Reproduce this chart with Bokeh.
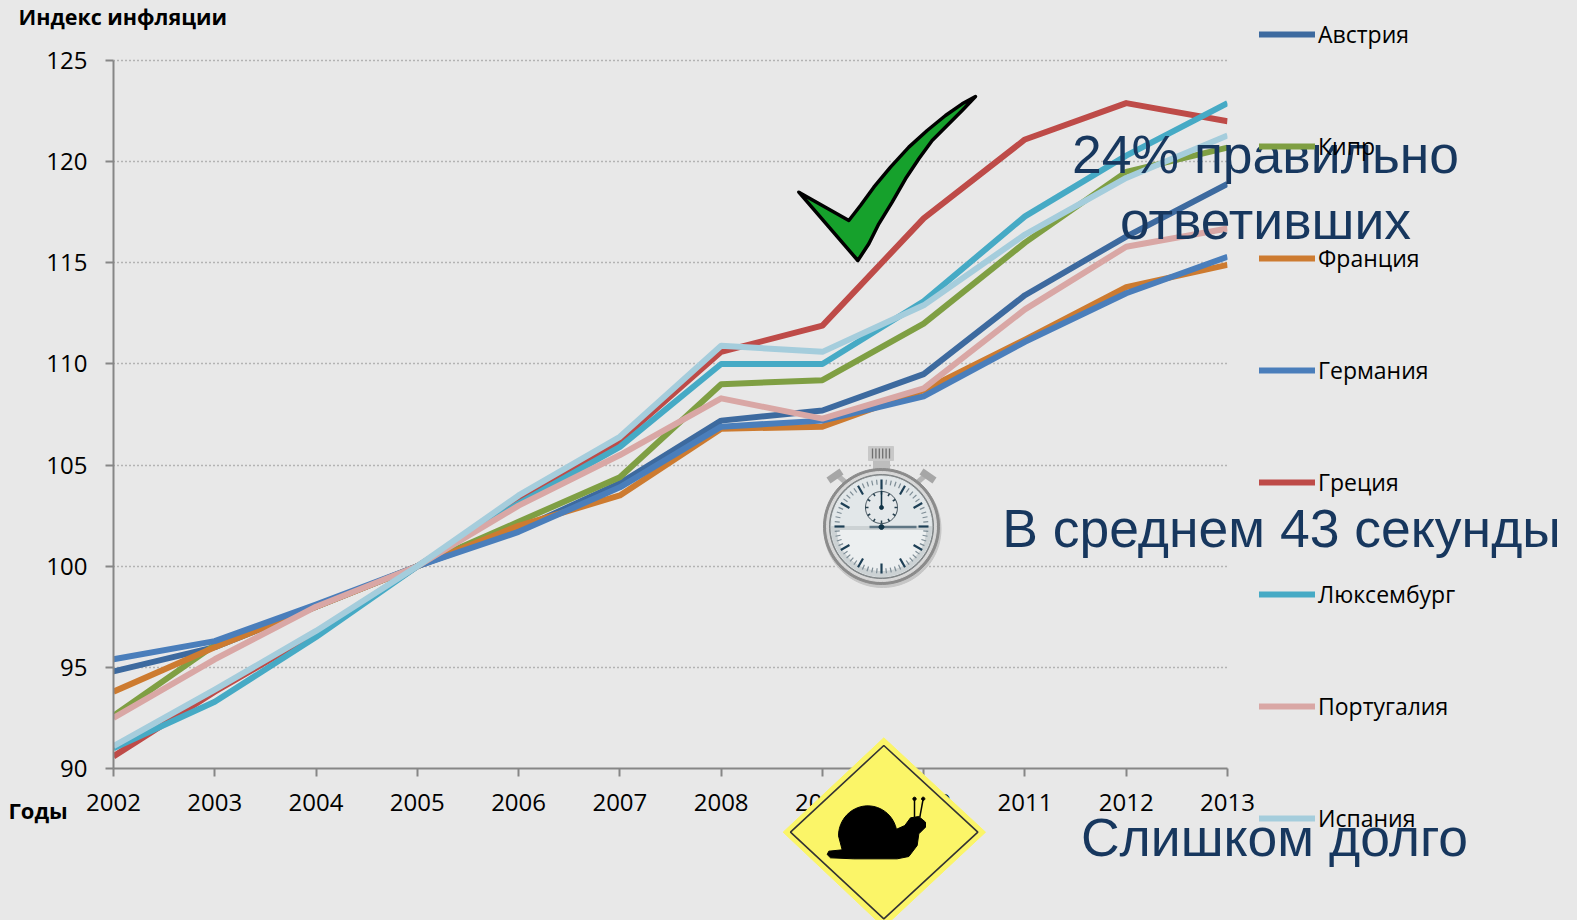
import numpy as np
from bokeh.plotting import figure
from bokeh.embed import file_html
from bokeh.resources import INLINE
from bokeh.models import FixedTicker, Label, Legend, LegendItem, Range1d

years = list(range(2002, 2014))
y_ticks = [90, 95, 100, 105, 110, 115, 120, 125]
austria = [94.8, 96.0, 98.0, 100, 101.8, 104.1, 107.2, 107.7, 109.5, 113.4, 116.3, 118.9]
cyprus = [92.6, 96.1, 98.0, 100, 102.2, 104.4, 109.0, 109.2, 112.0, 116.0, 119.5, 120.7]
france = [93.8, 96.0, 98.0, 100, 102.0, 103.5, 106.8, 106.9, 108.7, 111.2, 113.8, 114.9]
germany = [95.4, 96.3, 98.1, 100, 101.7, 103.9, 106.9, 107.2, 108.4, 111.1, 113.5, 115.3]
greece = [90.6, 93.8, 96.7, 100, 103.2, 106.2, 110.6, 111.9, 117.2, 121.1, 122.9, 122.0]
luxembourg = [91.0, 93.3, 96.5, 100, 103.1, 105.9, 110.0, 110.0, 113.1, 117.3, 120.3, 122.9]
portugal = [92.5, 95.4, 98.0, 100, 103.0, 105.5, 108.3, 107.3, 108.8, 112.7, 115.8, 116.7]
spain = [91.1, 93.9, 96.8, 100, 103.5, 106.4, 110.9, 110.6, 112.9, 116.4, 119.2, 121.3]
names = ["Австрия", "Кипр", "Франция", "Германия", "Греция", "Люксембург", "Португалия", "Испания"]
series = [austria, cyprus, france, germany, greece, luxembourg, portugal, spain]
colors = ["#3d6a9f", "#7f9f43", "#cd7b30", "#4a7ebb", "#be4b48", "#46aac5", "#d9a7a5", "#a5cddc"]

BG = "#e8e8e8"
NAVY = "#17375e"
W, H = 1577, 920
LEFT, RIGHT, TOP, BOTTOM = 113, 1227, 50, 768

p = figure(width=W, height=H, output_backend="svg", toolbar_location=None,
           x_range=Range1d(2002, 2013), y_range=Range1d(90, 125.5),
           min_border_left=LEFT, min_border_right=W - RIGHT,
           min_border_top=TOP, min_border_bottom=H - BOTTOM,
           background_fill_color=BG, border_fill_color=BG,
           styles={"position": "absolute", "left": "0px", "top": "0px"})
p.outline_line_color = None

for ax, ticks in ((p.xaxis, years), (p.yaxis, y_ticks)):
    ax.ticker = FixedTicker(ticks=ticks)
    ax.axis_line_color = "#868686"
    ax.axis_line_width = 2
    ax.major_tick_line_color = "#868686"
    ax.major_tick_line_width = 2
    ax.major_tick_in = 0
    ax.major_tick_out = 8
    ax.minor_tick_line_color = None
    ax.major_label_text_font = "Open Sans"
    ax.major_label_text_font_size = "24px"
    ax.major_label_text_color = "#000000"
p.yaxis.bounds = (90, 125)
p.xaxis.major_label_standoff = 17
p.yaxis.major_label_standoff = 18
p.xgrid.visible = False
p.ygrid.grid_line_color = "#7f7f7f"
p.ygrid.grid_line_dash = "1 3"
p.ygrid.grid_line_width = 1.3

for vals, col in zip(series, colors):
    p.line(years, vals, line_color=col, line_width=6, line_join="round")

# --- transparent overlay whose frame is the whole page, in page pixels
o = figure(width=W, height=H, output_backend="svg", toolbar_location=None,
           x_range=Range1d(0, W), y_range=Range1d(H, 0),
           x_axis_type=None, y_axis_type=None,
           min_border=0, min_border_left=0, min_border_right=0, min_border_top=0, min_border_bottom=0,
           background_fill_alpha=0, border_fill_alpha=0,
           styles={"position": "absolute", "left": "0px", "top": "0px"})
o.grid.visible = False
o.outline_line_color = None

items = []
for name, vals, col in zip(names, series, colors):
    # same series, out of this page-pixel range: it only feeds the legend's sample line
    r = o.line(years, vals, line_color=col, line_width=6, line_cap="round")
    items.append(LegendItem(label=name, renderers=[r]))
legend = Legend(items=items, location=(1259, 86), orientation="vertical",
                background_fill_alpha=0, border_line_color=None, padding=0, margin=0,
                glyph_width=56, glyph_height=24, label_height=24, label_standoff=3,
                spacing=80, label_text_font="Open Sans", label_text_font_size="23px",
                label_text_color="#000000")
o.add_layout(legend, "center")

# --- check mark
check_x = [55, 205, 240, 280, 330, 385, 440, 495, 545, 585, 545, 500, 455, 415, 375, 335, 295, 265, 232]
check_y = [335, 420, 375, 320, 260, 200, 150, 105, 70, 48, 90, 135, 180, 235, 295, 365, 430, 490, 540]
o.patch(780 + np.array(check_x) / 3, 80 + np.array(check_y) / 3,
        fill_color="#16a12c", line_color="#000000", line_width=3.5, line_join="round")


# --- stopwatch
def disc(cx, cy, r, color, line=None, lw=1):
    t = np.linspace(0, 2 * np.pi, 90)
    o.patch(cx + r * np.cos(t), cy + r * np.sin(t), fill_color=color,
            line_color=line or color, line_width=lw)


def rect(x0, y0, x1, y1, color):
    o.patch([x0, x1, x1, x0], [y0, y0, y1, y1], fill_color=color, line_color=color)


def seg(x0, y0, x1, y1, color, lw):
    o.line([x0, x1], [y0, y1], line_color=color, line_width=lw)


CX, CY = 881, 526
disc(CX + 1, CY + 2.5, 58.5, "#c6c6c6")
for sgn in (-1, 1):
    seg(CX + sgn * 30, 487, CX + sgn * 45, 474, "#b5b5b5", 5)
    seg(CX + sgn * 40, 471, CX + sgn * 53, 480, "#a6a6a6", 7)
rect(873, 458, 889, 472, "#bdbdbd")
rect(868, 446, 893, 460, "#c8c8c8")
for i in range(6):
    seg(872 + i * 3.4, 448, 872 + i * 3.4, 458, "#6f6f6f", 1.3)
disc(CX, CY, 58, "#8b8b8b")
disc(CX, CY, 55, "#d8d8d8")
disc(CX, CY, 52, "#7f8486")
disc(CX, CY, 50.5, "#e2e7e9")
t_g = np.linspace(0, np.pi, 50)
o.patch(CX + 50 * np.cos(t_g), CY + 50 * np.sin(t_g), fill_color="#ccd2d4", line_color="#ccd2d4")
o.patch(CX + 44 * np.cos(t_g), CY + 4 + 40 * np.sin(t_g), fill_color="#eceff0", line_color="#eceff0")
for k in range(60):
    a = k * np.pi / 30
    major = k % 5 == 0
    r0 = 37 if major else 42
    seg(CX + r0 * np.cos(a), CY + r0 * np.sin(a), CX + 47 * np.cos(a), CY + 47 * np.sin(a),
        "#1d3f55" if major else "#7d8c95", 2.2 if major else 1.2)
disc(881, 507, 16, "#e4e8ea", "#3a4a54", 1)
for k in range(12):
    a = k * np.pi / 6
    seg(881 + 13 * np.cos(a), 507 + 13 * np.sin(a), 881 + 16 * np.cos(a), 507 + 16 * np.sin(a), "#26404f", 1.5)
seg(881, 507, 881, 490, "#0f3346", 1.6)
disc(881, 507, 2, "#0f3346")
seg(869, 526.5, 916, 526.5, "#5f7684", 2.5)
disc(881, 526.5, 2.5, "#0f3346")


# --- snail sign
def sx(v):
    return 770 + np.asarray(v, dtype=float) / 3


def sy(v):
    return 730 + np.asarray(v, dtype=float) / 3


o.patch(sx([340, 645, 340, 38]), sy([22, 305, 590, 305]), fill_color="#fbf568", line_color="#fbf568")
o.patch(sx([340, 622, 340, 60]), sy([45, 305, 565, 305]), fill_color="#fbf568", line_color="#333333", line_width=1.6)
shell_t = np.linspace(np.pi, 1.93 * np.pi, 24)
snail_x = np.concatenate([[170, 175, 215], 292 + 88 * np.cos(shell_t),
                          [403, 420, 445, 465, 465, 445, 440, 415, 380, 250, 180]])
snail_y = np.concatenate([[372, 362, 358], 316 + 90 * np.sin(shell_t),
                          [285, 262, 258, 275, 290, 310, 345, 378, 385, 385, 382]])
o.patch(sx(snail_x), sy(snail_y), fill_color="#000000", line_color="#000000", line_join="round")
o.line(sx([432, 432]), sy([260, 205]), line_color="#000000", line_width=1.5)
o.line(sx([448, 458]), sy([260, 205]), line_color="#000000", line_width=1.5)
for cx0 in (432, 458):
    t = np.linspace(0, 2 * np.pi, 16)
    o.patch(sx(cx0 + 5 * np.cos(t)), sy(205 + 5 * np.sin(t)), fill_color="#000000", line_color="#000000")


# --- texts
def label(x, y, text, font, size, color, style="normal", align="left"):
    o.add_layout(Label(x=x, y=y, text=text, text_font=font, text_font_size=size, text_color=color,
                       text_font_style=style, text_align=align, text_baseline="middle"))


label(18, 16, "Индекс инфляции", "Open Sans", "21.5px", "#000000", "bold")
label(8, 809, "Годы", "Open Sans", "22px", "#000000", "bold")
label(1265, 154, "24% правильно", "Liberation Sans", "53.5px", NAVY, align="center")
label(1265, 220, "ответивших", "Liberation Sans", "53.5px", NAVY, align="center")
label(1281, 528, "В среднем 43 секунды", "Liberation Sans", "53.5px", NAVY, align="center")
label(1274, 837, "Слишком долго", "Liberation Sans", "53.5px", NAVY, align="center")

html = file_html([p, o], INLINE)
html = html.replace("<head>", "<head><style>html,body{margin:0;padding:0;overflow:hidden;background:#e8e8e8}</style>", 1)
open("out.html", "w").write(html)
